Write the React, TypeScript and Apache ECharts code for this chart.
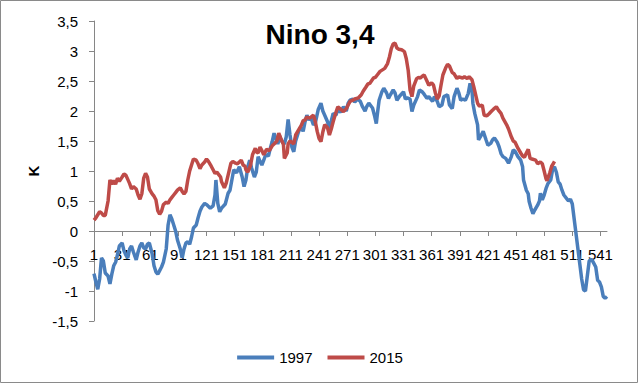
import React, { useEffect, useRef } from "react";
import * as echarts from "echarts";

const TITLE = "Nino 3,4";
const Y_NAME = "K";
const SERIES_NAMES = ["1997", "2015"];
const DAY_COUNT = 548;
const CATEGORIES = Array.from({ length: DAY_COUNT }, (_, i) => String(i + 1));

const days1997 = [
  1, 3, 5, 7, 9, 11, 13, 16, 18, 20, 22, 24, 26, 28, 31, 33, 35, 37, 39, 41, 43, 46, 48, 50, 52, 54, 56, 58, 60, 63,
  65, 67, 69, 71, 73, 75, 78, 80, 82, 84, 86, 88, 90, 93, 95, 97, 99, 101, 103, 105, 107, 110, 112, 114, 116, 119,
  121, 125, 128, 130, 131, 133, 135, 137, 141, 144, 146, 148, 150, 153, 156, 159, 161, 163, 165, 167, 169, 172, 174,
  176, 178, 180, 182, 184, 187, 189, 191, 193, 195, 197, 199, 201, 204, 206, 208, 210, 212, 214, 216, 219, 221, 223,
  224, 226, 228, 230, 232, 235, 237, 240, 243, 245, 247, 250, 252, 256, 259, 261, 264, 267, 270, 272, 274, 277, 279,
  282, 285, 287, 290, 292, 294, 298, 300, 302, 303, 305, 308, 310, 313, 315, 317, 320, 322, 324, 327, 331, 333, 335,
  338, 340, 342, 346, 348, 351, 353, 356, 358, 362, 364, 367, 369, 372, 374, 378, 380, 383, 385, 388, 390, 392, 394,
  397, 400, 402, 404, 405, 407, 410, 411, 414, 416, 419, 421, 424, 426, 428, 431, 433, 435, 437, 440, 443, 446, 448,
  450, 453, 456, 458, 459, 462, 464, 465, 467, 469, 471, 474, 476, 477, 479, 481, 483, 485, 488, 490, 492, 494, 496,
  498, 500, 502, 506, 507, 509, 511, 513, 515, 517, 519, 521, 523, 525, 527, 529, 531, 533, 536, 538, 540, 542, 544,
  546, 548,
];
const temp1997 = [
  -0.71, -0.85, -0.97, -0.8, -0.45, -0.5, -0.7, -0.75, -0.88, -0.72, -0.58, -0.52, -0.4, -0.25, -0.2, -0.33, -0.4,
  -0.45, -0.3, -0.25, -0.35, -0.48, -0.35, -0.25, -0.2, -0.28, -0.3, -0.22, -0.2, -0.38, -0.58, -0.68, -0.72, -0.66,
  -0.6, -0.52, -0.3, 0.1, 0.27, 0.2, 0.1, 0.0, -0.15, -0.3, -0.45, -0.3, -0.2, -0.18, -0.22, -0.1, 0.05, 0.1, 0.22,
  0.33, 0.4, 0.46, 0.44, 0.38, 0.42, 0.6, 0.85, 0.46, 0.32, 0.38, 0.45, 0.63, 0.68, 0.85, 1.02, 0.97, 1.07, 0.9,
  0.74, 0.85, 1.07, 1.18, 1.05, 0.9, 0.98, 1.24, 1.16, 1.1, 1.18, 1.27, 1.25, 1.38, 1.49, 1.63, 1.54, 1.45, 1.58,
  1.5, 1.45, 1.57, 1.86, 1.6, 1.4, 1.32, 1.5, 1.65, 1.72, 1.7, 1.66, 1.82, 1.93, 1.85, 1.9, 1.77, 1.8, 2.02, 2.13,
  2.0, 1.93, 1.82, 1.71, 1.96, 1.93, 2.02, 1.98, 2.07, 2.0, 2.13, 2.18, 2.2, 2.15, 2.2, 2.16, 2.08, 2.0, 2.08, 2.13,
  2.05, 1.93, 1.79, 1.93, 2.18, 2.32, 2.38, 2.3, 2.21, 2.27, 2.35, 2.3, 2.18, 2.25, 2.32, 2.2, 2.22, 2.2, 1.99, 2.1,
  2.24, 2.35, 2.32, 2.28, 2.21, 2.24, 2.16, 2.24, 2.16, 2.07, 2.1, 2.24, 2.27, 2.1, 2.04, 2.24, 2.38, 2.3, 2.18,
  2.2, 2.18, 2.29, 2.46, 2.35, 2.13, 1.96, 1.77, 1.52, 1.6, 1.66, 1.52, 1.43, 1.46, 1.52, 1.55, 1.48, 1.4, 1.29,
  1.24, 1.21, 1.13, 1.24, 1.35, 1.33, 1.24, 1.18, 1.07, 0.85, 0.68, 0.62, 0.49, 0.38, 0.29, 0.35, 0.43, 0.5, 0.63,
  0.52, 0.6, 0.71, 0.79, 0.85, 1.02, 1.07, 0.98, 0.82, 0.78, 0.68, 0.6, 0.52, 0.5, 0.53, 0.45, 0.2, -0.05, -0.3,
  -0.55, -0.8, -0.98, -1.0, -0.75, -0.5, -0.47, -0.51, -0.6, -0.82, -0.85, -0.93, -1.09, -1.12, -1.09,
];

const days2015 = [
  1, 3, 5, 7, 9, 11, 13, 16, 18, 20, 22, 24, 26, 28, 31, 33, 35, 37, 39, 41, 43, 46, 48, 50, 52, 54, 56, 58, 60, 63,
  65, 67, 69, 71, 73, 75, 78, 80, 82, 84, 86, 88, 90, 93, 95, 97, 99, 101, 103, 105, 107, 110, 112, 114, 116, 119,
  121, 123, 126, 128, 130, 132, 134, 136, 137, 140, 142, 144, 147, 149, 152, 154, 158, 160, 162, 163, 165, 168, 170,
  173, 174, 176, 178, 180, 182, 185, 188, 191, 193, 196, 198, 200, 203, 204, 207, 208, 210, 212, 214, 216, 219, 222,
  224, 226, 228, 231, 235, 237, 239, 241, 243, 245, 247, 250, 252, 254, 256, 259, 261, 264, 267, 270, 272, 274, 277,
  279, 283, 286, 288, 291, 293, 295, 299, 301, 303, 306, 309, 311, 314, 316, 318, 320, 322, 324, 326, 329, 332, 334,
  336, 338, 340, 342, 345, 347, 349, 351, 353, 356, 358, 361, 363, 365, 367, 369, 371, 373, 376, 378, 380, 383, 385,
  388, 390, 394, 396, 399, 401, 404, 406, 410, 412, 415, 417, 420, 422, 425, 427, 430, 432, 435, 437, 441, 443, 446,
  448, 450, 453, 456, 458, 460, 462, 464, 466, 468, 472, 474, 477, 479, 481, 483, 484, 487, 489, 491, 492,
];
const temp2015 = [
  0.18, 0.22, 0.27, 0.32, 0.3, 0.26, 0.26, 0.5, 0.85, 0.78, 0.84, 0.78, 0.88, 0.83, 0.9, 0.95, 0.93, 0.86, 0.79,
  0.7, 0.74, 0.7, 0.6, 0.53, 0.62, 0.88, 0.96, 0.9, 0.7, 0.62, 0.58, 0.52, 0.34, 0.28, 0.33, 0.44, 0.48, 0.46, 0.52,
  0.56, 0.6, 0.64, 0.68, 0.72, 0.66, 0.62, 0.66, 0.85, 1.0, 1.1, 1.2, 1.18, 1.12, 1.04, 1.1, 1.15, 1.2, 1.16, 1.08,
  1.02, 0.96, 0.98, 0.94, 0.9, 0.82, 0.72, 0.8, 0.93, 1.13, 1.16, 1.13, 1.12, 1.18, 1.1, 1.08, 1.02, 0.98, 1.1,
  1.27, 1.38, 1.32, 1.3, 1.4, 1.34, 1.27, 1.36, 1.34, 1.42, 1.45, 1.5, 1.63, 1.55, 1.44, 1.21, 1.3, 1.45, 1.5, 1.48,
  1.45, 1.6, 1.68, 1.76, 1.84, 1.85, 1.9, 1.88, 1.93, 1.82, 1.66, 1.54, 1.49, 1.65, 1.77, 1.72, 1.6, 1.7, 1.82,
  1.98, 2.07, 2.03, 1.99, 2.04, 2.1, 2.16, 2.18, 2.2, 2.22, 2.27, 2.33, 2.4, 2.45, 2.46, 2.55, 2.56, 2.6, 2.66, 2.69,
  2.71, 2.79, 2.9, 3.04, 3.12, 3.13, 3.05, 3.03, 3.02, 2.99, 2.87, 2.68, 2.35, 2.24, 2.42, 2.54, 2.56, 2.55, 2.58,
  2.6, 2.5, 2.43, 2.47, 2.43, 2.3, 2.2, 2.25, 2.43, 2.6, 2.72, 2.78, 2.75, 2.64, 2.62, 2.54, 2.57, 2.55, 2.57, 2.54,
  2.57, 2.52, 2.4, 2.13, 2.08, 2.1, 1.93, 1.92, 1.95, 2.0, 2.03, 2.07, 2.02, 1.96, 1.88, 1.77, 1.7, 1.57, 1.5, 1.48,
  1.38, 1.3, 1.25, 1.23, 1.3, 1.36, 1.21, 1.2, 1.18, 1.12, 1.15, 1.12, 1.0, 0.87, 0.84, 0.97, 1.08, 1.13, 1.16,
];

const Y_MIN = -1.5;
const Y_MAX = 3.5;
const Y_STEP = 0.5;
const LABEL_EVERY = 30;

const pairs = (days: number[], vals: number[]) => days.map((d, i) => [d - 1, vals[i]]);

export default function App() {
  const ref = useRef<HTMLDivElement>(null);
  useEffect(() => {
    if (!ref.current) return;
    const chart = echarts.init(ref.current, undefined, { renderer: "svg" });
    const font = "'Liberation Sans', Arial, sans-serif";
    const gridTop = 21;
    const gridBottom = 64;
    const plotH = 385 - gridTop - gridBottom;
    // shift the category axis from the bottom edge up to the zero line
    const zeroOffset = -(plotH * (0 - Y_MIN)) / (Y_MAX - Y_MIN);
    chart.setOption({
      animation: false,
      backgroundColor: "#ffffff",
      textStyle: { fontFamily: font },
      title: {
        text: TITLE,
        left: "center",
        top: 15,
        textStyle: { fontFamily: font, fontSize: 28, fontWeight: "bold", color: "#000" },
      },
      graphic: [
        {
          type: "rect",
          shape: { x: 0.5, y: 0.5, width: 637, height: 382 },
          style: { fill: "none", stroke: "#8a8a8a", lineWidth: 1 },
          silent: true,
        },
      ],
      legend: {
        data: SERIES_NAMES,
        left: "center",
        top: 345,
        icon: "rect",
        itemWidth: 37,
        itemHeight: 4,
        itemGap: 15,
        textStyle: { fontFamily: font, fontSize: 15, color: "#000" },
      },
      grid: { left: 94, right: 33, top: gridTop, bottom: gridBottom, containLabel: false },
      xAxis: {
        type: "category",
        data: CATEGORIES,
        boundaryGap: false,
        offset: zeroOffset,
        axisLine: { show: true, onZero: false, lineStyle: { color: "#868686", width: 1 } },
        axisTick: { show: true, interval: LABEL_EVERY - 1, length: 5, lineStyle: { color: "#868686" } },
        axisLabel: {
          interval: LABEL_EVERY - 1,
          margin: 16,
          fontSize: 15,
          color: "#000",
          fontFamily: font,
        },
        splitLine: { show: false },
      },
      yAxis: {
        type: "value",
        min: Y_MIN,
        max: Y_MAX,
        interval: Y_STEP,
        name: Y_NAME,
        nameLocation: "middle",
        nameGap: 48,
        nameTextStyle: { fontFamily: font, fontSize: 15, fontWeight: "bold", color: "#000" },
        axisLine: { show: true, lineStyle: { color: "#868686", width: 1 } },
        axisTick: { show: true, length: 5, lineStyle: { color: "#868686" } },
        axisLabel: {
          margin: 16,
          fontSize: 15,
          color: "#000",
          fontFamily: font,
          formatter: (v: number) => String(v).replace(".", ","),
        },
        splitLine: { show: false },
      },
      series: [
        {
          name: SERIES_NAMES[0],
          type: "line",
          data: pairs(days1997, temp1997),
          showSymbol: false,
          symbol: "none",
          lineStyle: { color: "#4A7EBB", width: 3.5 },
          itemStyle: { color: "#4A7EBB" },
          z: 2,
        },
        {
          name: SERIES_NAMES[1],
          type: "line",
          data: pairs(days2015, temp2015),
          showSymbol: false,
          symbol: "none",
          lineStyle: { color: "#BE4B48", width: 3.5 },
          itemStyle: { color: "#BE4B48" },
          z: 3,
        },
      ],
    });
    return () => chart.dispose();
  }, []);
  return (
    <div
      ref={ref}
      style={{ position: "fixed", left: 0, top: 0, width: 640, height: 385, background: "#fff" }}
    />
  );
}
